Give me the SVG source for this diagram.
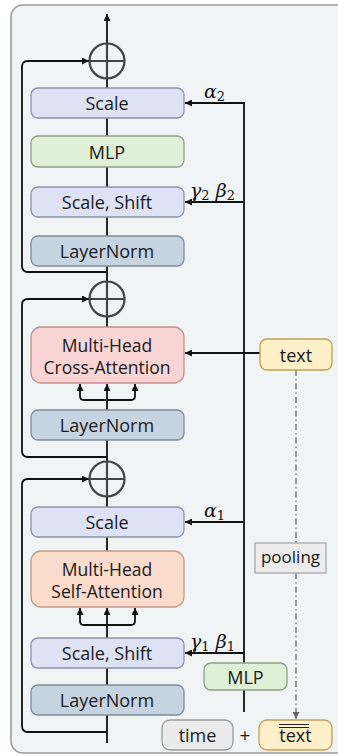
<svg xmlns="http://www.w3.org/2000/svg" width="338" height="756" viewBox="0 0 338 756">
<defs>
<marker id="ah" viewBox="0 0 10 10" refX="10" refY="5" markerWidth="7" markerHeight="7" orient="auto" markerUnits="userSpaceOnUse"><path d="M0,0 L10,5 L0,10 z" fill="#111"/></marker>
<marker id="ahg" viewBox="0 0 10 10" refX="10" refY="5" markerWidth="7" markerHeight="7" orient="auto" markerUnits="userSpaceOnUse"><path d="M0,0 L10,5 L0,10 z" fill="#666"/></marker>
<style>
.bx{stroke-width:1.3}
.scale{fill:#dde3f4;stroke:#8b93a8}
.mlp{fill:#dff0d6;stroke:#8fa088}
.ln{fill:#c6d4e2;stroke:#7d8c9c}
.cross{fill:#f9d4d5;stroke:#c48d8e}
.self{fill:#fbdbcb;stroke:#c4988a}
.txt{fill:#fdf0c9;stroke:#bf9f55}
.gray{fill:#ebebeb;stroke:#9a9a9a}
.lbl{font-family:"Open Sans","Liberation Sans",sans-serif;font-size:18px;fill:#1a1a1a;text-anchor:middle}
.att{font-size:17.5px}
.gk{font-family:"DejaVu Serif","Liberation Serif",serif;font-style:italic;font-size:19px;fill:#111}
.sub{font-size:13px;font-style:normal}
.ln1{fill:none;stroke:#111;stroke-width:1.8}
.plus{fill:none;stroke:#444;stroke-width:2.2}
.dd{fill:none;stroke:#666;stroke-width:1.3;stroke-dasharray:6 3 1.5 3}
</style>
</defs>
<rect x="11" y="5" width="345" height="748" rx="12" fill="#f1f4f5" stroke="#9a9a9a" stroke-width="1.6"/>

<g id="connectors">
<path class="ln1" d="M107,43 V14" marker-end="url(#ah)"/>
<path class="ln1" d="M107,79 V88 M107,118 V136 M107,167 V187 M107,217 V236 M107,266 V281 M107,316 V327 M107,440 V461 M107,496 V507 M107,537 V551 M107,668 V685 M107,715 V743"/>
<path class="ln1" d="M107,272 H28 Q22,272 22,266 V67 Q22,61 28,61 H89" marker-end="url(#ah)"/>
<path class="ln1" d="M107,457 H28 Q22,457 22,451 V305 Q22,299 28,299 H89" marker-end="url(#ah)"/>
<path class="ln1" d="M107,732 H28 Q22,732 22,726 V485 Q22,479 28,479 H89" marker-end="url(#ah)"/>
<path class="ln1" d="M244,663 V103 H185" marker-end="url(#ah)"/>
<path class="ln1" d="M244,202 H185" marker-end="url(#ah)"/>
<path class="ln1" d="M244,522 H185" marker-end="url(#ah)"/>
<path class="ln1" d="M244,653 H185" marker-end="url(#ah)"/>
<path class="ln1" d="M244,690 V712"/>
<path class="ln1" d="M260,353 H185" marker-end="url(#ah)"/>
<path class="ln1" d="M107,410 V400"/>
<path class="ln1" d="M107,400 V384" marker-end="url(#ah)"/>
<path class="ln1" d="M107,400 H84 Q80,400 80,396 V384" marker-end="url(#ah)"/>
<path class="ln1" d="M107,400 H131 Q135,400 135,396 V384" marker-end="url(#ah)"/>
<path class="ln1" d="M107,638 V625"/>
<path class="ln1" d="M107,625 V608" marker-end="url(#ah)"/>
<path class="ln1" d="M107,625 H84 Q80,625 80,621 V608" marker-end="url(#ah)"/>
<path class="ln1" d="M107,625 H131 Q135,625 135,621 V608" marker-end="url(#ah)"/>
<path class="dd" d="M296,370 V543"/>
<path class="dd" d="M296,573 V719" marker-end="url(#ahg)"/>
</g>

<g id="add1"><circle class="plus" cx="107" cy="61" r="17.5"/><path class="plus" d="M89.5,61 H124.5 M107,43.5 V78.5"/></g>
<g id="add2"><circle class="plus" cx="107" cy="299" r="17.5"/><path class="plus" d="M89.5,299 H124.5 M107,281.5 V316.5"/></g>
<g id="add3"><circle class="plus" cx="107" cy="479" r="17.5"/><path class="plus" d="M89.5,479 H124.5 M107,461.5 V496.5"/></g>

<g id="scale2"><rect class="bx scale" x="31" y="88" width="153" height="30" rx="7"/><text class="lbl" x="107" y="110">Scale</text></g>
<g id="mlp2"><rect class="bx mlp" x="31" y="136" width="153" height="31" rx="7"/><text class="lbl" x="107" y="158.5">MLP</text></g>
<g id="scaleshift2"><rect class="bx scale" x="31" y="187" width="153" height="30" rx="7"/><text class="lbl" x="107" y="209">Scale, Shift</text></g>
<g id="layernorm3"><rect class="bx ln" x="31" y="236" width="153" height="30" rx="7"/><text class="lbl" x="107" y="258">LayerNorm</text></g>
<g id="cross"><rect class="bx cross" x="31" y="327" width="153" height="56" rx="10"/><text class="lbl att" x="107" y="352">Multi-Head</text><text class="lbl att" x="107" y="374">Cross-Attention</text></g>
<g id="layernorm2"><rect class="bx ln" x="31" y="410" width="153" height="30" rx="7"/><text class="lbl" x="107" y="432">LayerNorm</text></g>
<g id="scale1"><rect class="bx scale" x="31" y="507" width="153" height="30" rx="7"/><text class="lbl" x="107" y="529">Scale</text></g>
<g id="self"><rect class="bx self" x="31" y="551" width="153" height="56" rx="10"/><text class="lbl att" x="107" y="576">Multi-Head</text><text class="lbl att" x="107" y="598">Self-Attention</text></g>
<g id="scaleshift1"><rect class="bx scale" x="31" y="638" width="153" height="30" rx="7"/><text class="lbl" x="107" y="660">Scale, Shift</text></g>
<g id="layernorm1"><rect class="bx ln" x="31" y="685" width="153" height="30" rx="7"/><text class="lbl" x="107" y="707">LayerNorm</text></g>

<g id="mlp-cond"><rect class="bx mlp" x="204" y="663" width="83" height="27" rx="7"/><text class="lbl" x="245.5" y="683.5">MLP</text></g>
<g id="text-in"><rect class="bx txt" x="260" y="339" width="72" height="31" rx="7"/><text class="lbl" x="296" y="361.5">text</text></g>
<g id="pooling"><rect class="bx" x="255" y="543" width="71" height="30" fill="#ececec" stroke="#aaaaaa"/><text class="lbl" x="290.5" y="563" style="font-size:17px">pooling</text></g>
<g id="time"><rect class="bx gray" x="162" y="720" width="71" height="30" rx="8"/><text class="lbl" x="197.5" y="742">time</text></g>
<text class="lbl" x="245" y="742" style="font-size:19px">+</text>
<g id="text-pooled"><rect class="bx txt" x="259" y="720" width="73" height="30" rx="8"/><text class="lbl" x="295.5" y="742">text</text><path d="M279,724.5 H309 M279,727.5 H309" stroke="#222" stroke-width="1.2"/></g>

<g id="labels">
<text class="gk" x="204" y="98">α<tspan class="sub" dy="3">2</tspan></text>
<text class="gk" x="190" y="197">γ<tspan class="sub" dy="3">2</tspan><tspan dy="-3"> β</tspan><tspan class="sub" dy="3">2</tspan></text>
<text class="gk" x="204" y="517">α<tspan class="sub" dy="3">1</tspan></text>
<text class="gk" x="190" y="648">γ<tspan class="sub" dy="3">1</tspan><tspan dy="-3"> β</tspan><tspan class="sub" dy="3">1</tspan></text>
</g>
</svg>
